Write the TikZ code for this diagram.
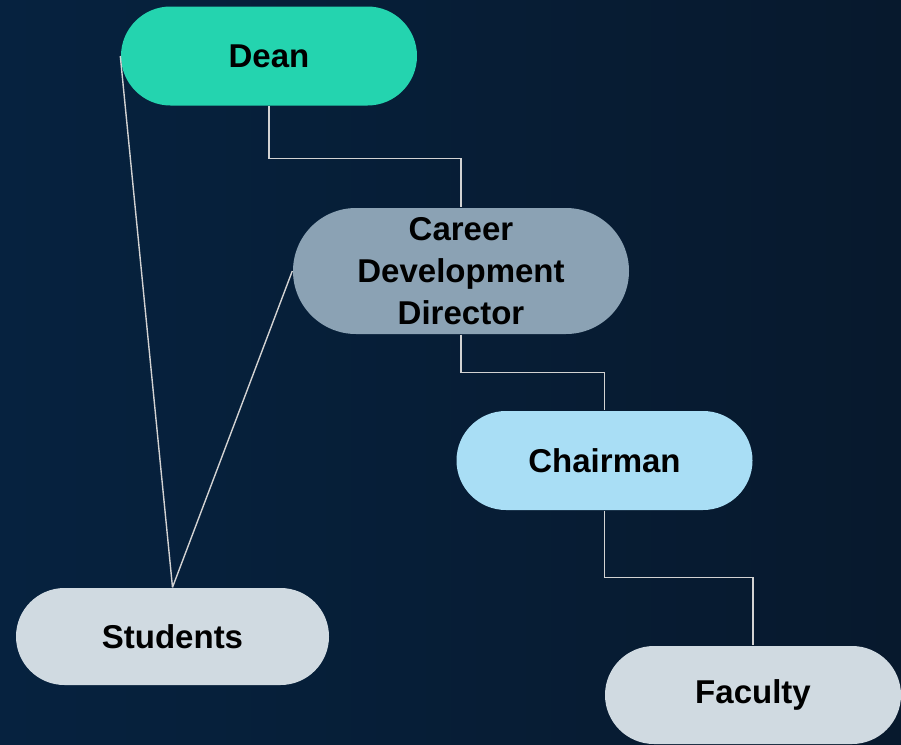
\documentclass[tikz,border=0pt]{standalone}
\usepackage{fontspec}
\setmainfont{Liberation Sans}
\usepackage{tikz}
\usetikzlibrary{positioning,shapes.misc}
\definecolor{bgleft}{HTML}{06223F}
\definecolor{bgright}{HTML}{07192D}
\definecolor{deancol}{HTML}{24D4AF}
\definecolor{directorcol}{HTML}{8BA2B4}
\definecolor{chaircol}{HTML}{A9DEF5}
\definecolor{groupcol}{HTML}{D0DAE1}
\definecolor{linkcol}{HTML}{D2D2D2}
\newcommand{\role}[1]{\textbf{#1}}

\begin{document}
\begin{tikzpicture}[
    x=1pt,
    y=1pt,
    on grid,
    line width=1.4pt,
    font=\fontsize{33}{42}\selectfont,
    main node/.style={rounded rectangle,draw=none,inner sep=0pt,text=black,
      minimum width=296pt,minimum height=99pt,align=center},
    link/.style={draw=linkcol}
    ]

    % background
    \shade[left color=bgleft,right color=bgright]
      (0,0) rectangle (901,-744);
    \useasboundingbox (0,0) rectangle (901,-744);

    \node[main node,fill=deancol] (1) at (269,-56) {\role{Dean}};
    \node[main node,fill=directorcol,minimum width=336pt,minimum height=126pt] (2)
      [below right=215pt and 192pt of 1] {\role{Career}\\\role{Development}\\\role{Director}};
    \node[main node,fill=chaircol] (3) [below right=189.5pt and 143.5pt of 2] {\role{Chairman}};
    \node[main node,fill=groupcol,minimum width=313pt,minimum height=97pt] (4)
      [below left=580.5pt and 96.5pt of 1] {\role{Students}};
    \node[main node,fill=groupcol,minimum height=98pt] (5)
      [below right=234.5pt and 148.5pt of 3] {\role{Faculty}};

    \draw[link] (1.south) -- ++(0,-52) -| (2.north);
    \draw[link] (2.south) -- ++(0,-38) -| (3.north);
    \draw[link] (3.south) -- ++(0,-67) -| (5.north);
    \draw[link] (1.west) -- (4.north);
    \draw[link] (2.west) -- (4.north);
  \end{tikzpicture}
\end{document}
